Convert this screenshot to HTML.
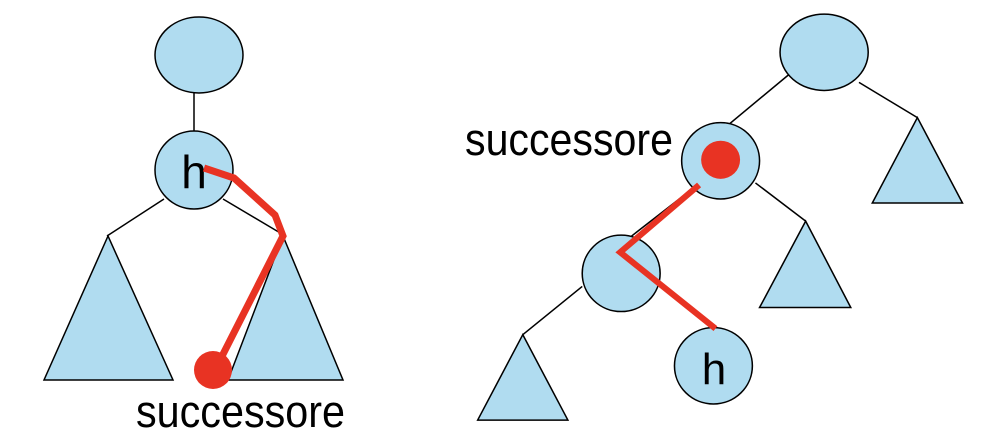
<!DOCTYPE html>
<html><head><meta charset="utf-8"><style>html,body{margin:0;padding:0;background:#fff}svg{display:block}</style></head><body>
<svg width="984" height="442" viewBox="0 0 984 442" xmlns="http://www.w3.org/2000/svg" font-family="Liberation Sans, sans-serif">
<g stroke="#000" stroke-width="1.5" fill="#b0dcf0">
<line x1="194" y1="93" x2="194" y2="132"/>
<line x1="164" y1="199" x2="107" y2="236"/>
<line x1="223" y1="199" x2="282" y2="234"/>
<ellipse cx="199" cy="55" rx="44" ry="38"/>
<circle cx="194" cy="170" r="39"/>
<polygon points="108,236 44,380 173,380"/>
<polygon points="283,236 228,380 343,380"/>
</g>
<g transform="translate(450,0) scale(1.025,1.005) translate(-450,0)">
<g stroke="#000" stroke-width="1.5" fill="#b0dcf0">
<line x1="782" y1="73" x2="697" y2="145"/>
<line x1="849" y1="82" x2="906" y2="117"/>
<line x1="748" y1="182" x2="797" y2="220"/>
<line x1="690" y1="185" x2="627" y2="235"/>
<line x1="579" y1="285" x2="521" y2="333"/>
<ellipse cx="815" cy="52" rx="43" ry="38"/>
<polygon points="906,117 862,202 950,202"/>
<circle cx="714" cy="160" r="38"/>
<polygon points="797,220 752,306 841,306"/>
<circle cx="617" cy="272" r="38"/>
<polygon points="521,333 477,418 565,418"/>
<circle cx="707" cy="364" r="38"/>
</g>
<circle cx="714" cy="159" r="19" fill="#e83323"/>
<polyline points="693,184 616,251 709,327" fill="none" stroke="#e83323" stroke-width="6"/>
</g>
<text x="194" y="188" font-size="46" text-anchor="middle">h</text>
<text x="714" y="384" font-size="44" text-anchor="middle">h</text>
<polyline points="204,168 234,178 275,215 283,236 215,370" fill="none" stroke="#e83323" stroke-width="7" stroke-linejoin="miter"/>
<circle cx="213" cy="370" r="19" fill="#e83323"/>
<text x="136" y="427" font-size="45" textLength="209" lengthAdjust="spacingAndGlyphs">successore</text>
<text x="465" y="155" font-size="45" textLength="208" lengthAdjust="spacingAndGlyphs">successore</text>
</svg>
</body></html>
